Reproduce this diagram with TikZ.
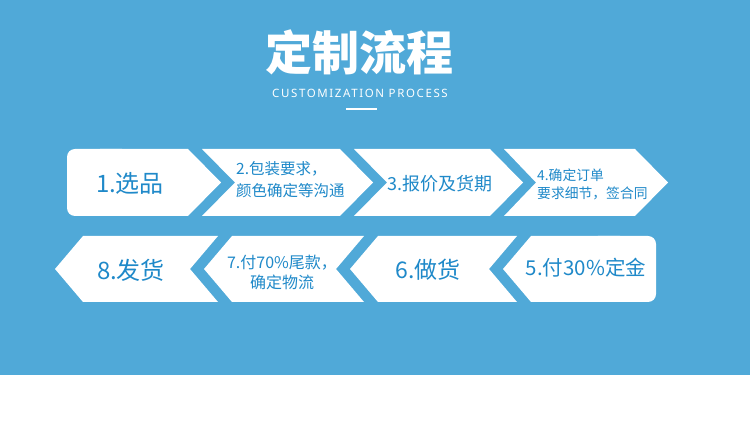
\documentclass[tikz,border=0pt]{standalone}
\usepackage{fontspec}
\setmainfont{Noto Sans CJK SC}
\newfontfamily\cjk{Noto Sans CJK SC}
\newfontfamily\latinsub[LetterSpace=14]{Noto Sans}
\definecolor{bgblue}{HTML}{50A9D8}
\definecolor{txtblue}{HTML}{1F89C9}
\tikzset{
  chev/.style={fill=white},
  steptext/.style={text=txtblue, inner sep=0pt, font=\cjk},
}
\begin{document}
\begin{tikzpicture}[x=1pt,y=-1pt]
\useasboundingbox (0,0) rectangle (750,443);
\fill[white] (0,0) rectangle (750,443);
\fill[bgblue] (0,0) rectangle (750,375);
% title
\node[text=white, font={\cjk\bfseries\fontsize{47}{50}\selectfont}, inner sep=0pt] (title) at (359,52) {定制流程};
\node[text=white, font={\latinsub\fontsize{11.5}{13}\selectfont}, inner sep=0pt] (sub) at (360,93) {CUSTOMIZATION PROCESS};
\coordinate (ula) at (346,109);
\coordinate (ulb) at (377,109);
\draw[white, line width=2pt] (ula) -- (ulb);
% row 1 : top 149, bottom 216, mid 182.5, d = 33
\fill[chev, rounded corners=8pt] (67,149) rectangle (130,216);
\fill[chev] (100,149) -- (188,149) -- (221,182.5) -- (188,216) -- (100,216) -- cycle;
\fill[chev] (202,149) -- (340,149) -- (373,182.5) -- (340,216) -- (202,216) -- (235,182.5) -- cycle;
\fill[chev] (354,149) -- (490,149) -- (523,182.5) -- (490,216) -- (354,216) -- (387,182.5) -- cycle;
\fill[chev] (504,149) -- (635,149) -- (668,182.5) -- (635,216) -- (504,216) -- (536,182.5) -- cycle;
% row 2 : top 236, bottom 302, mid 269, d = 28
\fill[chev] (83,236) -- (218,236) -- (190,269) -- (218,302) -- (83,302) -- (55,269) -- cycle;
\fill[chev] (232,236) -- (364,236) -- (336,269) -- (364,302) -- (232,302) -- (204,269) -- cycle;
\fill[chev] (378,236) -- (517,236) -- (489,269) -- (517,302) -- (378,302) -- (350,269) -- cycle;
\fill[chev] (531,236) -- (620,236) -- (620,302) -- (531,302) -- (503,269) -- cycle;
\fill[chev, rounded corners=8pt] (590,236) rectangle (656,302);
% texts
\node[steptext, font={\cjk\fontsize{24}{26}\selectfont}] (s1) at (130,183) {1.选品};
\node[steptext, font={\cjk\fontsize{15.5}{22}\selectfont}, align=left, anchor=west] (s2) at (236,179.5) {2.包装要求，\\颜色确定等沟通};
\node[steptext, font={\cjk\fontsize{18}{20}\selectfont}] (s3) at (440,184) {3.报价及货期};
\node[steptext, font={\cjk\fontsize{13.8}{18}\selectfont}, align=left, anchor=west] (s4) at (537,184) {4.确定订单\\要求细节，签合同};
\node[steptext, font={\cjk\fontsize{20.5}{22}\selectfont}] (s5) at (586,268) {5.付30\%定金};
\node[steptext, font={\cjk\fontsize{23}{24}\selectfont}] (s6) at (428,270) {6.做货};
\node[steptext, font={\cjk\fontsize{16}{19.5}\selectfont}, align=center] (s7) at (282,272.5) {7.付70\%尾款，\\确定物流};
\node[steptext, font={\cjk\fontsize{24}{26}\selectfont}] (s8) at (131,270) {8.发货};
\end{tikzpicture}
\end{document}
